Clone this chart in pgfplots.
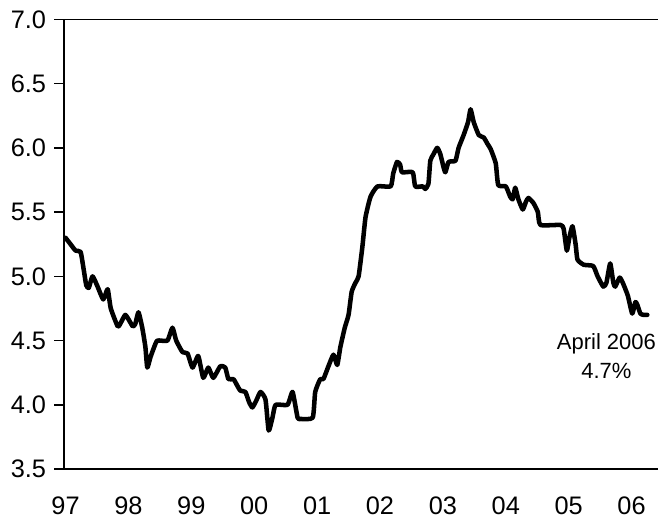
\documentclass[border=0pt]{standalone}
\usepackage{fontspec}
\setmainfont{Liberation Sans}
\usepackage{pgfplots}
\pgfplotsset{compat=1.18}
\usetikzlibrary{calc}
\pgfplotstableread{
t v
1997.00 5.30
1997.08 5.25
1997.16 5.20
1997.24 5.19
1997.29 5.05
1997.33 4.93
1997.37 4.91
1997.43 5.00
1997.51 4.92
1997.60 4.82
1997.67 4.90
1997.72 4.75
1997.83 4.61
1997.87 4.63
1997.95 4.70
1998.02 4.65
1998.07 4.61
1998.11 4.63
1998.16 4.72
1998.22 4.60
1998.27 4.45
1998.30 4.29
1998.35 4.37
1998.41 4.45
1998.46 4.50
1998.62 4.50
1998.70 4.60
1998.76 4.50
1998.86 4.41
1998.94 4.40
1999.02 4.29
1999.11 4.38
1999.19 4.21
1999.27 4.29
1999.35 4.21
1999.46 4.30
1999.54 4.29
1999.59 4.20
1999.67 4.20
1999.73 4.15
1999.78 4.11
1999.86 4.10
1999.92 4.02
1999.97 3.98
2000.03 4.03
2000.10 4.10
2000.18 4.04
2000.23 3.80
2000.29 3.90
2000.34 4.00
2000.53 4.00
2000.61 4.10
2000.69 3.90
2000.74 3.89
2000.93 3.90
2000.97 4.10
2001.05 4.20
2001.10 4.20
2001.18 4.30
2001.26 4.39
2001.32 4.31
2001.37 4.45
2001.44 4.60
2001.50 4.70
2001.55 4.88
2001.61 4.95
2001.66 5.00
2001.72 5.23
2001.77 5.46
2001.85 5.62
2001.96 5.70
2002.17 5.70
2002.21 5.80
2002.27 5.89
2002.32 5.87
2002.35 5.81
2002.52 5.81
2002.56 5.70
2002.68 5.70
2002.72 5.68
2002.77 5.72
2002.80 5.90
2002.85 5.95
2002.91 6.00
2002.96 5.95
2003.01 5.85
2003.04 5.81
2003.09 5.89
2003.20 5.90
2003.25 6.00
2003.33 6.10
2003.40 6.20
2003.44 6.30
2003.49 6.20
2003.57 6.10
2003.65 6.08
2003.71 6.03
2003.76 5.99
2003.84 5.88
2003.88 5.71
2004.00 5.70
2004.07 5.62
2004.11 5.60
2004.15 5.69
2004.20 5.60
2004.27 5.52
2004.32 5.58
2004.36 5.61
2004.44 5.57
2004.51 5.50
2004.55 5.40
2004.87 5.40
2004.92 5.37
2004.97 5.20
2005.01 5.30
2005.06 5.39
2005.11 5.25
2005.14 5.13
2005.24 5.09
2005.39 5.08
2005.46 5.00
2005.55 4.92
2005.60 4.95
2005.66 5.10
2005.71 4.95
2005.74 4.92
2005.81 4.99
2005.86 4.95
2005.94 4.85
2006.01 4.71
2006.06 4.80
2006.09 4.78
2006.14 4.71
2006.19 4.70
2006.25 4.70
}\unemp
\begin{document}
\begin{tikzpicture}
\begin{axis}[
  scale only axis, width=445.5pt, height=337.3pt,
  xmin=1996.976, xmax=2006.42, ymin=3.5, ymax=7.0,
  axis line style={draw=none},
  /pgf/number format/assume math mode=true,
  ytick={3.5,4.0,4.5,5.0,5.5,6.0,6.5,7.0},
  yticklabel style={/pgf/number format/fixed, /pgf/number format/fixed zerofill, /pgf/number format/precision=1, font=\fontsize{19}{22}\selectfont, xshift=-2.5pt},
  tick align=outside, major tick length=7.5pt,
  ytick style={line width=1.2pt, black},
  xtick={1997,1998,1999,2000,2001,2002,2003,2004,2005,2006},
  xticklabels={97,98,99,00,01,02,03,04,05,06},
  xtick style={draw=none},
  xticklabel style={font=\fontsize{19}{22}\selectfont, yshift=-10pt},
  clip=false,
]
\addplot[black, line width=3.4pt, line join=round, line cap=round, smooth, tension=0.3] table[x=t, y=v] {\unemp};
\draw[line width=1.2pt] (rel axis cs:0,0) -- (rel axis cs:1,0);
\draw[line width=1.2pt] (rel axis cs:0,1) -- (rel axis cs:1,1);
\draw[line width=1.2pt] (rel axis cs:0,0) -- (rel axis cs:0,1);
\node[font=\fontsize{16.5}{22}\selectfont, align=center] at (axis cs:2005.60,4.38) {April 2006\\4.7\%};
\coordinate (SW) at (rel axis cs:0,0);
\end{axis}
\pgfresetboundingbox
\path[use as bounding box] ($(SW)+(-48pt,-36.75pt)$) rectangle ($(SW)+(445.5pt,351.8pt)$);
\end{tikzpicture}
\end{document}
